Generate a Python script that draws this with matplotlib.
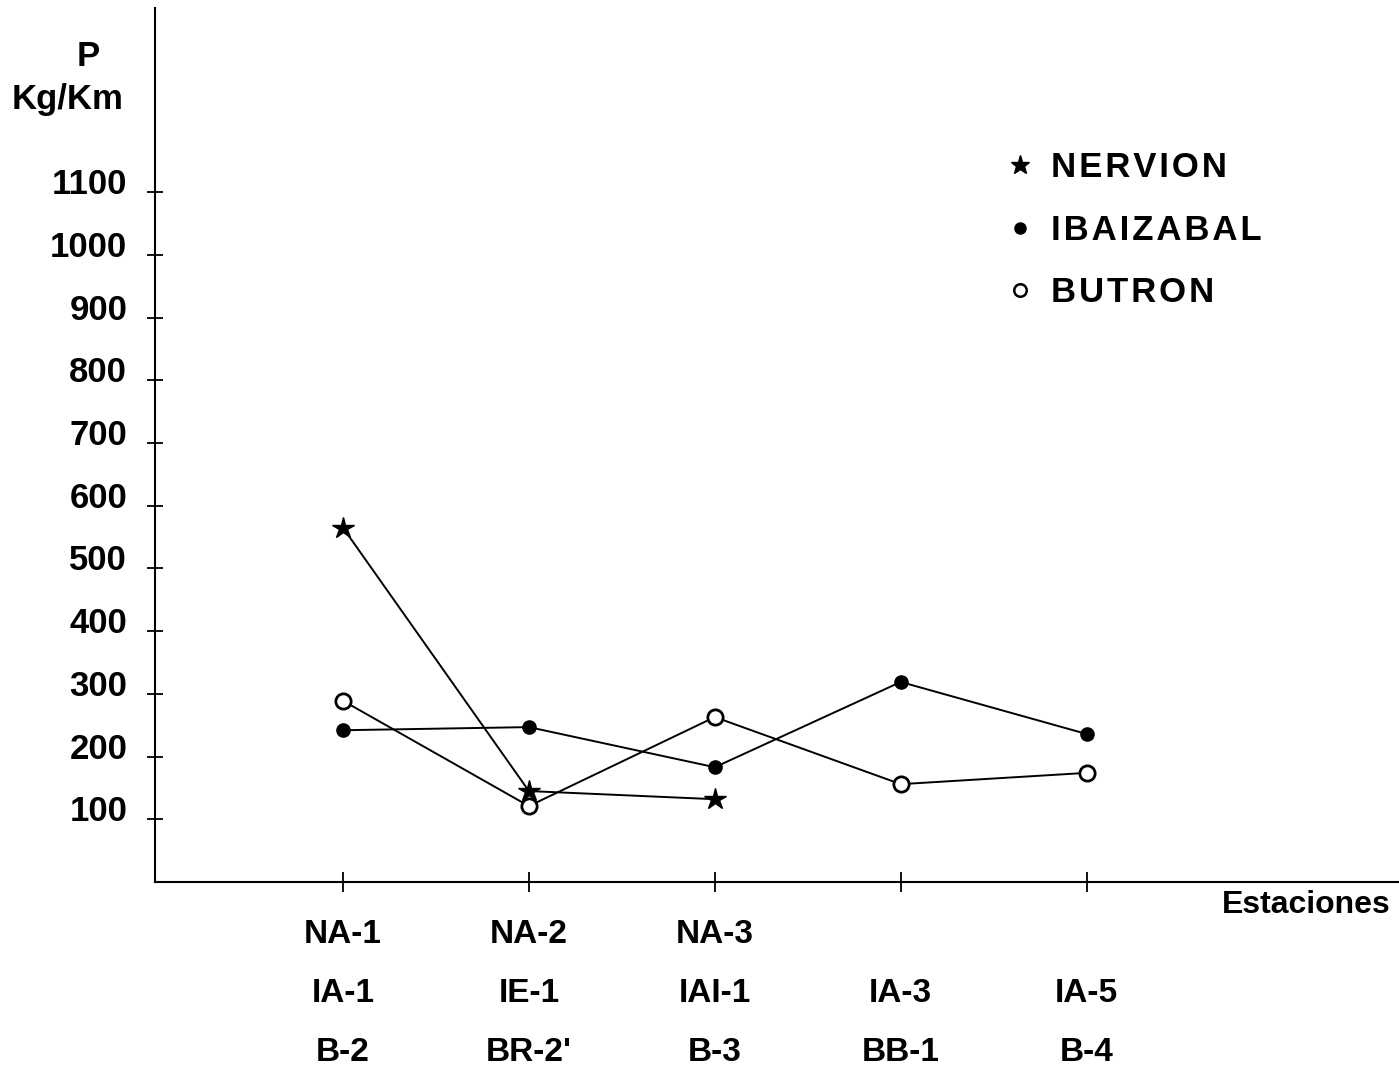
import numpy as np
import matplotlib.pyplot as plt
import matplotlib.transforms as mtransforms
from matplotlib.lines import Line2D

plt.rcParams['font.family'] = ['Liberation Sans', 'DejaVu Sans']
plt.rcParams['font.weight'] = 'bold'

# estaciones de muestreo (una columna por posicion del eje x)
estaciones = ["NA-1\nIA-1\nB-2", "NA-2\nIE-1\nBR-2'", "NA-3\nIAI-1\nB-3",
              "\nIA-3\nBB-1", "\nIA-5\nB-4"]
pos = np.arange(1, 6)

# carga P (Kg/Km) por rio
nervion = [565, 145, 132]
ibaizabal = [242, 247, 183, 319, 236]
butron = [289, 121, 263, 156, 174]

rios = ['NERVION', 'IBAIZABAL', 'BUTRON']
y_ticks = np.arange(100, 1200, 100)

fig = plt.figure(figsize=(13.99, 10.74), dpi=100)
ax = fig.add_axes([0.1108, 0.1788, 0.8892, 0.8138])

ax.plot(pos[:len(nervion)], nervion, color='black', lw=1.4,
        marker='*', ms=16, mfc='black', mec='black')
ax.plot(pos, ibaizabal, color='black', lw=1.4,
        marker='o', ms=9.5, mfc='black', mec='black')
ax.plot(pos, butron, color='black', lw=1.4,
        marker='o', ms=11, mfc='white', mec='black', mew=2)

ax.set_xlim(-0.011, 6.68)
ax.set_ylim(0, 1394)

for s in ['top', 'right']:
    ax.spines[s].set_visible(False)
for s in ['left', 'bottom']:
    ax.spines[s].set_linewidth(1.5)

ax.set_yticks(y_ticks)
ax.set_yticklabels([str(v) for v in y_ticks])
ax.tick_params(axis='y', direction='inout', length=12, width=1.3,
               labelsize=25, pad=14)
ax.set_xticks(pos)
ax.set_xticklabels(estaciones)
ax.tick_params(axis='x', direction='inout', length=14, width=1.3,
               labelsize=24, pad=20)
for lab in ax.get_xticklabels():
    lab.set_linespacing(2.15)

# etiquetas del eje y algo por encima de cada marca
shift = mtransforms.ScaledTranslation(0, 0.11, fig.dpi_scale_trans)
for lab in ax.get_yticklabels():
    lab.set_transform(lab.get_transform() + shift)

fig.text(88 / 1399, 1 - 57 / 1074, 'P', ha='center', va='center', fontsize=25)
fig.text(68 / 1399, 1 - 100 / 1074, 'Kg/Km', ha='center', va='center',
         fontsize=25)
fig.text(1306 / 1399, 1 - 905 / 1074, 'Estaciones', ha='center', va='center',
         fontsize=23)

handles = [
    Line2D([], [], ls='none', marker='*', ms=14, color='black'),
    Line2D([], [], ls='none', marker='o', ms=8, color='black'),
    Line2D([], [], ls='none', marker='o', ms=9, mfc='white', mec='black', mew=1.8),
]
etiquetas = ['\u200a'.join(r) for r in rios]
leg = ax.legend(handles, etiquetas,
                loc='upper left', bbox_to_anchor=(990 / 1399, 1 - 134 / 1074),
                bbox_transform=fig.transFigure, frameon=False,
                fontsize=25, handlelength=0.7, handletextpad=0.55,
                labelspacing=0.85, borderpad=0)

fig.savefig('out.png', dpi=100)
